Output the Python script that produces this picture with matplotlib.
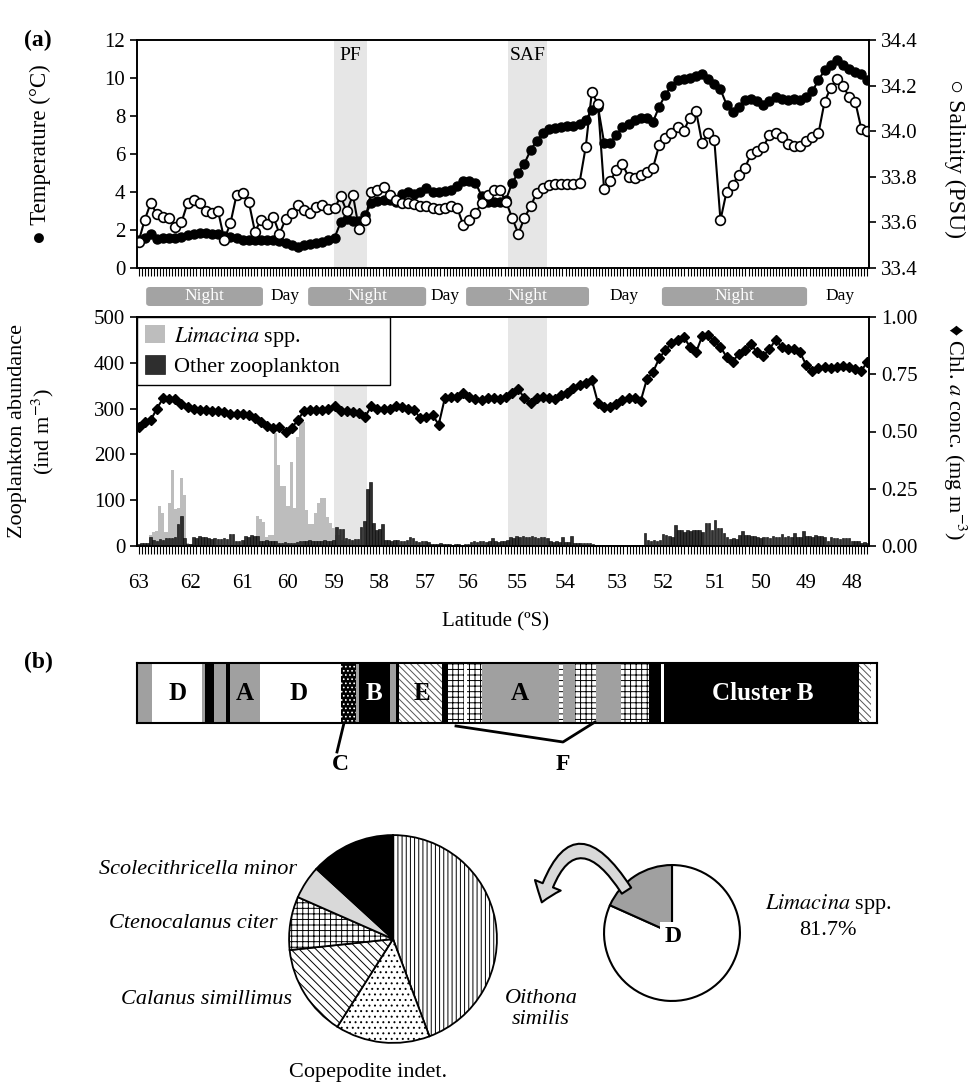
import numpy as np
import matplotlib
matplotlib.use("Agg")
import matplotlib.pyplot as plt
from matplotlib.patches import FancyBboxPatch, FancyArrowPatch, ArrowStyle
from matplotlib.ticker import FormatStrFormatter

plt.rcParams['font.family'] = ['Liberation Serif', 'DejaVu Serif']
plt.rcParams['mathtext.fontset'] = 'stix'
plt.rcParams['hatch.linewidth'] = 0.7
plt.rcParams['axes.linewidth'] = 1.2

# ---------------- data ----------------
N_ST = 240  # net stations along the transect

lat_labels = [63, 62, 61, 60, 59, 58, 57, 56, 55, 54, 53, 52, 51, 50, 49, 48]
lat_station = [0, 17, 34, 49, 64, 79, 94, 108, 124, 140, 157, 172, 189, 204, 219, 234]

fronts = [('PF', 64, 74.8), ('SAF', 121.2, 134)]
night_spans = [(2.5, 40.8), (55.6, 94.3), (107.4, 147.7), (171.6, 219.2)]
day_station = [48, 100.5, 159.2, 230]

# temperature (deg C) and salinity (PSU), every second station
temperature = [
    1.5, 1.6, 1.8, 1.55, 1.6, 1.6, 1.6, 1.65, 1.75, 1.8,
    1.85, 1.85, 1.8, 1.8, 1.7, 1.65, 1.6, 1.5, 1.5, 1.45,
    1.45, 1.45, 1.45, 1.4, 1.3, 1.2, 1.1, 1.2, 1.25, 1.3,
    1.35, 1.45, 1.6, 2.4, 2.6, 2.5, 2.5, 2.8, 3.4, 3.55,
    3.6, 3.6, 3.5, 3.9, 4.0, 3.9, 4.0, 4.2, 4.0, 4.0,
    4.05, 4.1, 4.3, 4.6, 4.6, 4.5, 3.8, 3.5, 3.5, 3.5,
    3.6, 4.5, 5.0, 5.5, 6.2, 6.7, 7.1, 7.3, 7.35, 7.4,
    7.45, 7.5, 7.6, 7.8, 8.3, 8.5, 6.6, 6.6, 7.0, 7.4,
    7.6, 7.8, 7.9, 7.9, 7.7, 8.5, 9.1, 9.6, 9.9, 9.95,
    10.0, 10.1, 10.2, 9.95, 9.7, 9.4, 8.6, 8.2, 8.5, 8.85,
    8.9, 8.8, 8.6, 8.8, 9.0, 8.9, 8.85, 8.9, 8.85, 9.0,
    9.3, 9.9, 10.4, 10.7, 10.95, 10.7, 10.5, 10.3, 10.2, 9.9,
]
salinity = [
    33.515, 33.61, 33.686, 33.635, 33.625, 33.62, 33.58, 33.6, 33.684, 33.698,
    33.686, 33.65, 33.64, 33.648, 33.525, 33.596, 33.72, 33.73, 33.69, 33.56,
    33.61, 33.594, 33.625, 33.55, 33.613, 33.64, 33.676, 33.655, 33.642, 33.668,
    33.676, 33.66, 33.662, 33.714, 33.648, 33.72, 33.57, 33.61, 33.735, 33.744,
    33.756, 33.72, 33.7, 33.686, 33.686, 33.68, 33.67, 33.67, 33.665, 33.66,
    33.665, 33.67, 33.665, 33.59, 33.61, 33.64, 33.685, 33.72, 33.74, 33.74,
    33.69, 33.62, 33.55, 33.62, 33.67, 33.73, 33.75, 33.765, 33.77, 33.77,
    33.77, 33.77, 33.775, 33.93, 34.17, 34.12, 33.745, 33.78, 33.83, 33.855,
    33.8, 33.795, 33.81, 33.82, 33.84, 33.94, 33.97, 33.99, 34.02, 34.0,
    34.06, 34.09, 33.95, 33.99, 33.96, 33.61, 33.735, 33.765, 33.81, 33.84,
    33.9, 33.915, 33.93, 33.985, 33.99, 33.975, 33.945, 33.935, 33.935, 33.955,
    33.975, 33.99, 34.13, 34.19, 34.23, 34.2, 34.15, 34.13, 34.01, 34.0,
]
# chlorophyll a (mg m-3), every second station
chl = [
    0.52, 0.54, 0.55, 0.6, 0.645, 0.64, 0.64, 0.62, 0.605, 0.6,
    0.595, 0.595, 0.59, 0.59, 0.585, 0.575, 0.575, 0.575, 0.572, 0.56,
    0.54, 0.525, 0.514, 0.52, 0.5, 0.515, 0.55, 0.59, 0.596, 0.595,
    0.594, 0.6, 0.61, 0.59, 0.59, 0.585, 0.58, 0.565, 0.61, 0.6,
    0.6, 0.6, 0.61, 0.605, 0.6, 0.595, 0.557, 0.565, 0.572, 0.53,
    0.645, 0.65, 0.652, 0.667, 0.65, 0.64, 0.637, 0.645, 0.645, 0.64,
    0.65, 0.67, 0.685, 0.645, 0.625, 0.645, 0.652, 0.645, 0.64, 0.66,
    0.67, 0.69, 0.705, 0.71, 0.725, 0.625, 0.605, 0.605, 0.62, 0.637,
    0.645, 0.645, 0.635, 0.73, 0.76, 0.82, 0.855, 0.885, 0.9, 0.914,
    0.87, 0.845, 0.915, 0.92, 0.895, 0.87, 0.825, 0.805, 0.84, 0.855,
    0.88, 0.845, 0.83, 0.86, 0.9, 0.87, 0.86, 0.86, 0.845, 0.79,
    0.765, 0.776, 0.78, 0.778, 0.78, 0.785, 0.78, 0.775, 0.765, 0.805,
]

# abundance (ind m-3) at every station
limacina = [
    0, 0, 0, 0, 25, 30, 33, 87, 71, 30, 93, 166, 80, 82, 148, 111, 6, 5, 0, 0,
    0, 0, 0, 0, 0, 0, 0, 0, 0, 0, 0, 0, 0, 0, 0, 0, 0, 0, 0, 65,
    60, 53, 20, 24, 24, 246, 177, 130, 130, 87, 183, 82, 238, 270, 270, 79, 48, 48, 71, 93,
    104, 104, 64, 51, 40, 25, 25, 13, 10, 0, 0, 0, 0, 0, 0, 0, 0, 0, 0, 0,
    0, 0, 0, 0, 0, 0, 0, 0, 0, 0, 0, 0, 0, 0, 0, 0, 0, 0, 0, 0,
    0, 0, 0, 0, 0, 0, 0, 0, 0, 0, 0, 0, 0, 0, 0, 0, 0, 0, 0, 0,
    0, 0, 0, 0, 0, 0, 0, 0, 0, 0, 0, 0, 0, 0, 0, 0, 0, 0, 0, 0,
    0, 0, 0, 0, 0, 0, 0, 0, 0, 0, 0, 0, 0, 0, 0, 0, 0, 0, 0, 0,
    0, 0, 0, 0, 0, 0, 0, 0, 0, 0, 0, 0, 0, 0, 0, 0, 0, 0, 0, 0,
    0, 0, 0, 0, 0, 0, 0, 0, 0, 0, 0, 0, 0, 0, 0, 0, 0, 0, 0, 0,
    0, 0, 0, 0, 0, 0, 0, 0, 0, 0, 0, 0, 0, 0, 0, 0, 0, 0, 0, 0,
    0, 0, 0, 0, 0, 0, 0, 0, 0, 0, 0, 0, 0, 0, 0, 0, 0, 0, 0, 0,
]
other_zoo = [
    5, 6, 6, 7, 19, 14, 12, 16, 13, 17, 18, 17, 19, 48, 65, 18, 5, 4, 20, 18,
    21, 19, 20, 17, 16, 18, 15, 16, 17, 15, 27, 27, 12, 11, 13, 22, 20, 23, 21, 22,
    12, 11, 13, 12, 11, 10, 7, 6, 8, 7, 6, 7, 8, 12, 10, 11, 13, 12, 10, 11,
    12, 13, 11, 12, 14, 42, 38, 37, 18, 15, 14, 16, 15, 42, 55, 124, 140, 51, 35, 38,
    48, 14, 13, 12, 14, 13, 12, 11, 13, 20, 18, 10, 9, 11, 10, 9, 5, 4, 5, 6,
    5, 4, 4, 3, 4, 4, 3, 4, 4, 8, 10, 9, 11, 10, 9, 12, 17, 10, 9, 11,
    12, 13, 20, 18, 21, 19, 22, 20, 19, 21, 20, 18, 19, 20, 17, 10, 9, 11, 8, 19,
    8, 9, 22, 7, 6, 7, 6, 7, 6, 5, 3, 3, 2, 3, 2, 2, 3, 2, 2, 1,
    1, 1, 2, 3, 2, 3, 28, 14, 12, 13, 11, 13, 26, 24, 22, 20, 45, 36, 36, 30,
    35, 33, 34, 35, 36, 30, 50, 50, 35, 57, 39, 39, 29, 20, 15, 18, 16, 25, 33, 24,
    24, 22, 22, 19, 18, 20, 19, 18, 21, 19, 20, 27, 20, 22, 20, 29, 20, 19, 33, 22,
    22, 20, 23, 21, 22, 20, 12, 19, 17, 18, 16, 17, 18, 17, 10, 12, 10, 7, 8, 7,
]

# cluster membership along the transect, as (cluster, number of stations)
cluster_runs = [
    ('A', 5), ('D', 16), ('A', 1), ('B', 3), ('A', 4), ('B', 1), ('A', 10),
    ('D', 26), ('C', 5), ('A', 1), ('B', 10), ('A', 2), ('B', 1), ('E', 14),
    ('B', 2), ('F', 5), ('D', 1), ('F', 5), ('A', 25), ('F', 1), ('A', 4),
    ('F', 7), ('A', 8), ('F', 9), ('B', 4), ('D', 1), ('B', 63), ('E', 4),
    ('D', 2),
]

# composition of cluster D (other zooplankton, %) and share of Limacina
pie_labels = ['Oithona similis', 'Copepodite indet.', 'Calanus simillimus',
              'Ctenocalanus citer', 'Scolecithricella minor', 'Others']
pie_values = [44.3, 14.7, 14.3, 8.3, 5.2, 13.2]
d_labels = ['Limacina spp.', 'Other zooplankton']
d_values = [81.7, 18.3]

# ---------------- figure ----------------
W, H = 969, 1084
fig = plt.figure(figsize=(W / 100, H / 100), dpi=100)


def box(l, t, r, b):
    return [l / W, 1 - b / H, (r - l) / W, (b - t) / H]


FS = 15
st = np.arange(N_ST)
ts_x = np.linspace(0, N_ST - 1, len(temperature))

# ---- (a) upper: temperature / salinity ----
ax_t = fig.add_axes(box(137, 40, 869, 268))
for name, a, b in fronts:
    ax_t.axvspan(a, b, color='#e6e6e6', lw=0, zorder=0)
    ax_t.text((a + b) / 2, 11.2, name, ha='center', va='center', fontsize=14)
ax_t.plot(ts_x, temperature, '-o', color='black', lw=1.5, ms=6.5, zorder=2)
ax_t.set_xlim(-0.5, N_ST - 0.5)
ax_t.set_ylim(0, 12)
ax_t.set_yticks(range(0, 13, 2))
ax_t.set_xticks(st)
ax_t.set_xticklabels([])
ax_t.tick_params(axis='x', length=6, width=0.8)
ax_t.tick_params(axis='y', labelsize=FS, length=5, width=1.2)
ax_t.set_ylabel('\u25CF Temperature (\u00B0C)', fontsize=16.5, va='center')
ax_t.yaxis.set_label_coords(-0.1325, 0.5)

ax_s = ax_t.twinx()
ax_s.plot(ts_x, salinity, '-o', color='black', mfc='white', mec='black',
          mew=1.2, lw=1.5, ms=7)
ax_s.set_ylim(33.4, 34.4)
ax_s.set_yticks(np.arange(33.4, 34.41, 0.2))
ax_s.yaxis.set_major_formatter(FormatStrFormatter('%.1f'))
ax_s.tick_params(axis='y', labelsize=FS, length=5, width=1.2)
ax_s.set_ylabel('\u25CB Salinity (PSU)', fontsize=17, rotation=270, va='center')
ax_s.yaxis.set_label_coords(1.1175, 0.48)

# night / day strip
trans = ax_t.get_xaxis_transform()
for a, b in night_spans:
    ax_t.add_patch(FancyBboxPatch((a, -0.1667), b - a, 0.0834,
                                  boxstyle='round,pad=0,rounding_size=1.2',
                                  mutation_aspect=0.011, transform=trans,
                                  clip_on=False, fc='#a3a3a3', ec='none'))
    ax_t.text((a + b) / 2, -0.125, 'Night', transform=trans, ha='center',
              va='center', color='white', fontsize=12.5)
for d in day_station:
    ax_t.text(d, -0.125, 'Day', transform=trans, ha='center', va='center',
              fontsize=12.5)

# ---- (a) lower: zooplankton / chl a ----
ax_m = fig.add_axes(box(137, 317, 869, 546))
for name, a, b in fronts:
    ax_m.axvspan(a, b, color='#e6e6e6', lw=0, zorder=0)
h1 = ax_m.bar(st, limacina, width=1.0, color='#bdbdbd', lw=0, zorder=2)
h2 = ax_m.bar(st, other_zoo, width=0.85, color='#2e2e2e', ec='black',
              lw=0.4, zorder=3)
ax_m.set_xlim(-0.5, N_ST - 0.5)
ax_m.set_ylim(0, 500)
ax_m.set_yticks(range(0, 501, 100))
ax_m.set_xticks(st)
ax_m.set_xticklabels([str(lat_labels[lat_station.index(i)]) if i in lat_station
                      else '' for i in st])
ax_m.tick_params(axis='x', length=6, width=0.8, labelsize=FS, pad=14)
ax_m.tick_params(axis='y', labelsize=FS, length=5, width=1.2)
ax_m.set_ylabel('Zooplankton abundance\n(ind m$^{-3}$)', fontsize=16,
                linespacing=1.15, va='center')
ax_m.yaxis.set_label_coords(-0.143, 0.5)

ax_c = ax_m.twinx()
ax_c.plot(ts_x, chl, '-D', color='black', lw=1.5, ms=5.5)
ax_c.set_ylim(0, 1)
ax_c.set_yticks([0, 0.25, 0.5, 0.75, 1.0])
ax_c.yaxis.set_major_formatter(FormatStrFormatter('%.2f'))
ax_c.tick_params(axis='y', labelsize=FS, length=5, width=1.2)
ax_c.set_ylabel('\u2666 Chl. $a$ conc. (mg m$^{-3}$)', fontsize=16,
                rotation=270, va='center')
ax_c.yaxis.set_label_coords(1.1175, 0.5)
leg = ax_c.legend([h1, h2], ['$\\mathit{Limacina}$ spp.', 'Other zooplankton'],
                  loc='upper left', bbox_to_anchor=(0, 1, 0.3456, 0),
                  mode='expand', borderaxespad=0,
                  fancybox=False, edgecolor='black', framealpha=1,
                  fontsize=16, handlelength=0.9, handleheight=0.9,
                  handletextpad=0.4, borderpad=0.35, labelspacing=0.3)
leg.get_frame().set_linewidth(1.0)

# ---- (b) cluster strip ----
styles = {
    'A': dict(color='#a0a0a0'),
    'B': dict(color='black'),
    'C': dict(fc='black', ec='white', hatch='....'),
    'D': dict(color='white'),
    'E': dict(fc='white', ec='#555555', hatch='\\\\\\\\\\'),
    'F': dict(fc='white', ec='black', hatch='+++'),
}
ax_cl = fig.add_axes(box(137, 663, 877, 723))
left = 0
for code, n in cluster_runs:
    ax_cl.barh(0, n, left=left, height=1, lw=0, **styles[code])
    left += n
ax_cl.set_xlim(0, N_ST)
ax_cl.set_ylim(-0.5, 0.5)
ax_cl.set_xticks([])
ax_cl.set_yticks([])
for sp in ax_cl.spines.values():
    sp.set_linewidth(1.5)

# ---- (b) pies ----
hatches = ['||||', '...', '\\\\\\\\', '+++', '', '']
colors = ['white', 'white', 'white', 'white', '#d9d9d9', 'black']
ax_p1 = fig.add_axes(box(287, 833, 499, 1045))
ax_p1.pie(pie_values, startangle=90, counterclock=False, colors=colors,
          hatch=hatches, wedgeprops=dict(edgecolor='black', linewidth=1.3))
ax_p1.set_xlim(-1.02, 1.02)
ax_p1.set_ylim(-1.02, 1.02)

ax_p2 = fig.add_axes(box(602, 863, 742, 1003))
ax_p2.pie(d_values, startangle=90, counterclock=False,
          colors=['white', '#a0a0a0'],
          wedgeprops=dict(edgecolor='black', linewidth=1.5))
ax_p2.set_xlim(-1.03, 1.03)
ax_p2.set_ylim(-1.03, 1.03)

# ---- annotations in pixel coordinates ----
ov = fig.add_axes([0, 0, 1, 1])
ov.set_xlim(0, W)
ov.set_ylim(H, 0)
ov.axis('off')
ov.patch.set_visible(False)

ov.text(38, 40, '(a)', fontsize=17, fontweight='bold', ha='center', va='center')
ov.text(38, 662, '(b)', fontsize=17, fontweight='bold', ha='center', va='center')
ov.text(496, 622, 'Latitude (\u00BAS)', fontsize=15, ha='center', va='center')

for x, s, c in [(178, 'D', 'black'), (245, 'A', 'black'), (299, 'D', 'black'),
                (374, 'B', 'white'), (422, 'E', 'black'), (520, 'A', 'black'),
                (763, 'Cluster B', 'white')]:
    ov.text(x, 694, s, fontsize=18, fontweight='bold', color=c,
            ha='center', va='center')
ov.plot([337, 344], [752, 723], color='black', lw=2)
ov.text(340, 765, 'C', fontsize=17, fontweight='bold', ha='center', va='center')
ov.plot([456, 563, 595], [726, 742, 722], color='black', lw=2)
ov.text(563, 765, 'F', fontsize=17, fontweight='bold', ha='center', va='center')

ov.text(297, 869, pie_labels[4], fontsize=16, style='italic', ha='right', va='center')
ov.text(278, 923, pie_labels[3], fontsize=16, style='italic', ha='right', va='center')
ov.text(292, 1000, pie_labels[2], fontsize=16, style='italic', ha='right', va='center')
ov.text(541, 1009, 'Oithona\nsimilis', fontsize=16, style='italic', ha='center',
        va='center', linespacing=1.2)
ov.text(368, 1073, pie_labels[1], fontsize=16, ha='center', va='center')
ov.text(828, 916, '$\\mathit{Limacina}$ spp.\n81.7%', fontsize=16,
        ha='center', va='center', linespacing=1.3)
ov.text(673, 937, 'D', fontsize=17, fontweight='bold', ha='center', va='center',
        bbox=dict(fc='white', ec='none', pad=3))

arrow = FancyArrowPatch((628, 893), (541, 905),
                        connectionstyle='arc3,rad=1.1',
                        arrowstyle=ArrowStyle('Simple', head_length=1.3,
                                              head_width=2.0, tail_width=0.8),
                        mutation_scale=10, fc='#d9d9d9', ec='black', lw=1.5)
ov.add_patch(arrow)

fig.savefig('out.png', dpi=100)
